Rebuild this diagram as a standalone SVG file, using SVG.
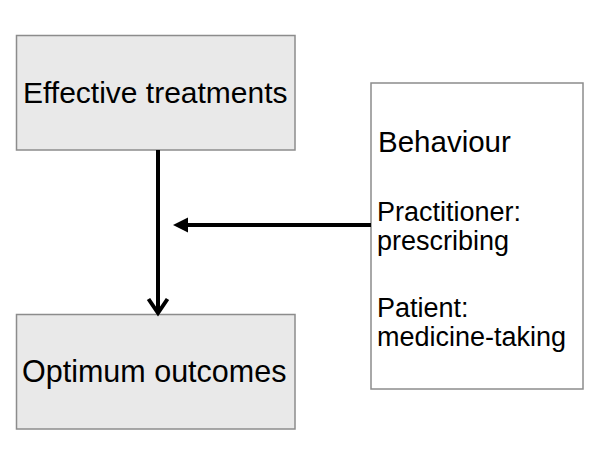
<svg xmlns="http://www.w3.org/2000/svg" width="600" height="450" viewBox="0 0 600 450">
<style>
.box{fill:#e9e9e9;stroke:#8c8c8c;stroke-width:1.5}
.wbox{fill:#ffffff;stroke:#8c8c8c;stroke-width:1.5}
text{font-family:"Liberation Sans",Arial,sans-serif;fill:#000}
.big{font-size:30px}
.opt{font-size:30.5px}
.mid{font-size:29.5px}
.sm{font-size:27px}
.conn{stroke:#000;stroke-width:4;fill:none}
</style>
<rect width="600" height="450" fill="#fff"/>
<g id="effective">
<rect class="box" x="16.5" y="35.5" width="278.5" height="114.5"/>
<text class="big" x="23" y="103">Effective treatments</text>
</g>
<g id="optimum">
<rect class="box" x="16.5" y="314.5" width="278.5" height="114.5"/>
<text class="opt" x="22" y="382">Optimum outcomes</text>
</g>
<g id="behaviour">
<rect class="wbox" x="371" y="83" width="212" height="306"/>
<text class="mid" x="378" y="152">Behaviour</text>
<text class="sm" x="377" y="221">Practitioner:</text>
<text class="sm" x="377" y="250">prescribing</text>
<text class="sm" x="377" y="317">Patient:</text>
<text class="sm" x="377" y="346">medicine-taking</text>
</g>
<g id="connectors">
<line class="conn" x1="158" y1="150" x2="158" y2="312"/>
<polyline class="conn" points="148.5,299 158,313 167.5,299" stroke-linejoin="miter"/>
<line class="conn" x1="371" y1="225" x2="184" y2="225"/>
<polygon points="173,225 188,217.5 188,232.5" fill="#000"/>
</g>
</svg>
